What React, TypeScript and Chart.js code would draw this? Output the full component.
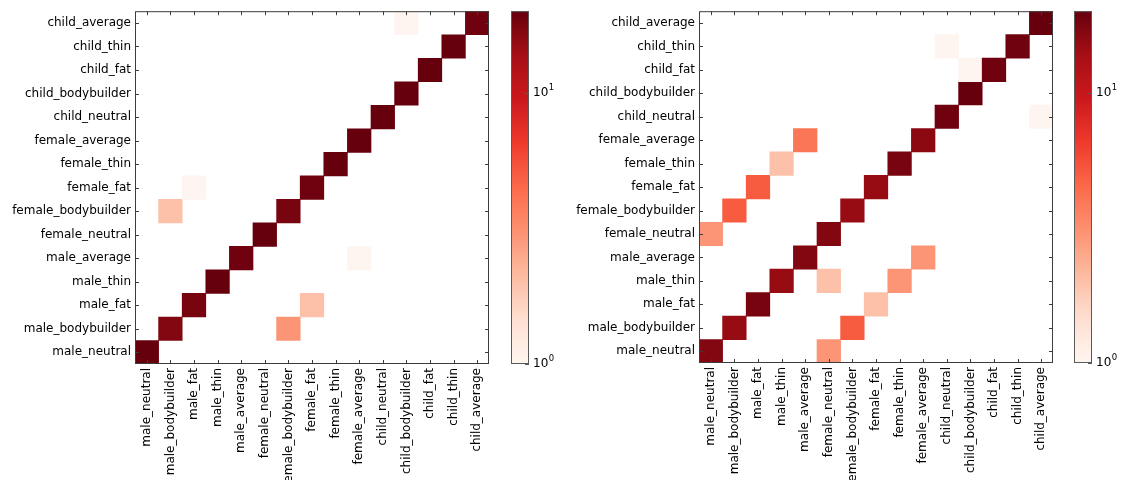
import React, { useEffect, useRef } from 'react';
import { Chart, registerables } from 'chart.js';

Chart.register(...registerables);

// Class names, bottom row / left column first.
const classNames = [
  'male_neutral',
  'male_bodybuilder',
  'male_fat',
  'male_thin',
  'male_average',
  'female_neutral',
  'female_bodybuilder',
  'female_fat',
  'female_thin',
  'female_average',
  'child_neutral',
  'child_bodybuilder',
  'child_fat',
  'child_thin',
  'child_average',
];

// Confusion counts: countsX[row][col], row = true class, col = predicted class.
const countsLeft: number[][] = [
  [20, 0, 0, 0, 0, 0, 0, 0, 0, 0, 0, 0, 0, 0, 0],
  [0, 17, 0, 0, 0, 0, 3, 0, 0, 0, 0, 0, 0, 0, 0],
  [0, 0, 18, 0, 0, 0, 0, 2, 0, 0, 0, 0, 0, 0, 0],
  [0, 0, 0, 20, 0, 0, 0, 0, 0, 0, 0, 0, 0, 0, 0],
  [0, 0, 0, 0, 19, 0, 0, 0, 0, 1, 0, 0, 0, 0, 0],
  [0, 0, 0, 0, 0, 20, 0, 0, 0, 0, 0, 0, 0, 0, 0],
  [0, 2, 0, 0, 0, 0, 18, 0, 0, 0, 0, 0, 0, 0, 0],
  [0, 0, 1, 0, 0, 0, 0, 19, 0, 0, 0, 0, 0, 0, 0],
  [0, 0, 0, 0, 0, 0, 0, 0, 20, 0, 0, 0, 0, 0, 0],
  [0, 0, 0, 0, 0, 0, 0, 0, 0, 20, 0, 0, 0, 0, 0],
  [0, 0, 0, 0, 0, 0, 0, 0, 0, 0, 20, 0, 0, 0, 0],
  [0, 0, 0, 0, 0, 0, 0, 0, 0, 0, 0, 20, 0, 0, 0],
  [0, 0, 0, 0, 0, 0, 0, 0, 0, 0, 0, 0, 20, 0, 0],
  [0, 0, 0, 0, 0, 0, 0, 0, 0, 0, 0, 0, 0, 20, 0],
  [0, 0, 0, 0, 0, 0, 0, 0, 0, 0, 0, 1, 0, 0, 19],
];

const countsRight: number[][] = [
  [17, 0, 0, 0, 0, 3, 0, 0, 0, 0, 0, 0, 0, 0, 0],
  [0, 15, 0, 0, 0, 0, 5, 0, 0, 0, 0, 0, 0, 0, 0],
  [0, 0, 18, 0, 0, 0, 0, 2, 0, 0, 0, 0, 0, 0, 0],
  [0, 0, 0, 15, 0, 2, 0, 0, 3, 0, 0, 0, 0, 0, 0],
  [0, 0, 0, 0, 17, 0, 0, 0, 0, 3, 0, 0, 0, 0, 0],
  [3, 0, 0, 0, 0, 17, 0, 0, 0, 0, 0, 0, 0, 0, 0],
  [0, 5, 0, 0, 0, 0, 15, 0, 0, 0, 0, 0, 0, 0, 0],
  [0, 0, 5, 0, 0, 0, 0, 15, 0, 0, 0, 0, 0, 0, 0],
  [0, 0, 0, 2, 0, 0, 0, 0, 18, 0, 0, 0, 0, 0, 0],
  [0, 0, 0, 0, 4, 0, 0, 0, 0, 16, 0, 0, 0, 0, 0],
  [0, 0, 0, 0, 0, 0, 0, 0, 0, 0, 19, 0, 0, 0, 1],
  [0, 0, 0, 0, 0, 0, 0, 0, 0, 0, 0, 20, 0, 0, 0],
  [0, 0, 0, 0, 0, 0, 0, 0, 0, 0, 0, 1, 19, 0, 0],
  [0, 0, 0, 0, 0, 0, 0, 0, 0, 0, 1, 0, 0, 19, 0],
  [0, 0, 0, 0, 0, 0, 0, 0, 0, 0, 0, 0, 0, 0, 20],
];

// Log colour scale limits and colorbar ticks (10^exponent).
const colorMin = 1;
const colorMax = 20;
const colorbarTicks = [1, 10];
const colorbarExponents = ['0', '1'];

// "Reds" sequential palette.
const redsStops = [
  '#fff5f0', '#fee0d2', '#fcbba1', '#fc9272', '#fb6a4a',
  '#ef3b2c', '#cb181d', '#a50f15', '#67000d',
];

const FAMILY = "'DejaVu Sans', sans-serif";
const FONT = { family: FAMILY, size: 12 };
const AXIS_COLOR = '#3c3c3c';

function hexToRgb(h: string): number[] {
  return [1, 3, 5].map((i) => parseInt(h.slice(i, i + 2), 16));
}

function reds(t: number): string {
  const tt = Math.min(1, Math.max(0, t)) * (redsStops.length - 1);
  const i = Math.min(redsStops.length - 2, Math.floor(tt));
  const f = tt - i;
  const a = hexToRgb(redsStops[i]);
  const b = hexToRgb(redsStops[i + 1]);
  const c = a.map((v, k) => Math.round(v + (b[k] - v) * f));
  return `rgb(${c[0]},${c[1]},${c[2]})`;
}

function colorFor(v: number): string {
  return reds(Math.log(v / colorMin) / Math.log(colorMax / colorMin));
}

function cellsOf(counts: number[][]) {
  const cells: { x: string; y: number[]; v: number }[] = [];
  counts.forEach((row, r) => {
    row.forEach((v, c) => {
      if (v > 0) cells.push({ x: classNames[c], y: [r - 0.5, r + 0.5], v });
    });
  });
  return cells;
}

// Frame with inward tick marks on all four sides.
const heatFrame = {
  id: 'heatFrame',
  afterDatasetsDraw(chart: any) {
    const { ctx, chartArea, scales } = chart;
    const { left, right, top, bottom } = chartArea;
    const len = 4;
    ctx.save();
    ctx.strokeStyle = AXIS_COLOR;
    ctx.lineWidth = 1;
    ctx.beginPath();
    classNames.forEach((_, i) => {
      const px = Math.round(scales.x.getPixelForTick(i)) + 0.5;
      ctx.moveTo(px, bottom);
      ctx.lineTo(px, bottom - len);
      ctx.moveTo(px, top);
      ctx.lineTo(px, top + len);
      const py = Math.round(scales.y.getPixelForValue(i)) + 0.5;
      ctx.moveTo(left, py);
      ctx.lineTo(left + len, py);
      ctx.moveTo(right, py);
      ctx.lineTo(right - len, py);
    });
    ctx.stroke();
    ctx.strokeRect(left + 0.5, top + 0.5, right - left - 1, bottom - top - 1);
    ctx.restore();
  },
};

// Colorbar outline, inward ticks and power-of-ten labels with superscripts.
const barFrame = {
  id: 'barFrame',
  afterDatasetsDraw(chart: any) {
    const { ctx, chartArea, scales } = chart;
    const { left, right, top, bottom } = chartArea;
    ctx.save();
    ctx.strokeStyle = '#5a5a5a';
    ctx.lineWidth = 1;
    ctx.beginPath();
    colorbarTicks.forEach((v) => {
      const py = Math.round(scales.y.getPixelForValue(v)) + 0.5;
      ctx.moveTo(right, py);
      ctx.lineTo(right - 4, py);
    });
    ctx.stroke();
    ctx.strokeRect(left + 0.5, top + 0.5, right - left - 1, bottom - top - 1);

    ctx.fillStyle = '#000';
    ctx.textAlign = 'left';
    ctx.textBaseline = 'middle';
    colorbarTicks.forEach((v, i) => {
      const py = scales.y.getPixelForValue(v);
      const x = right + 4;
      ctx.font = `12px ${FAMILY}`;
      ctx.fillText('10', x, py);
      const w = ctx.measureText('10').width;
      ctx.font = `8.5px ${FAMILY}`;
      ctx.fillText(colorbarExponents[i], x + w + 0.5, py - 5);
    });
    ctx.restore();
  },
};

type Box = { yWidth: number; xHeight: number; top: number; right: number; left: number };

function Heatmap({ counts, box, x, w }: { counts: number[][]; box: Box; x: number; w: number }) {
  const ref = useRef<HTMLCanvasElement>(null);
  useEffect(() => {
    const chart = new Chart(ref.current!, {
      type: 'bar',
      data: {
        labels: classNames,
        datasets: [
          {
            data: cellsOf(counts) as any,
            backgroundColor: (c: any) => (c.raw ? colorFor(c.raw.v) : 'transparent'),
            borderWidth: 0,
            barPercentage: 1,
            categoryPercentage: 1,
          },
        ],
      },
      options: {
        animation: false,
        responsive: false,
        events: [],
        layout: { padding: { left: box.left, top: box.top, right: box.right, bottom: 0 } },
        plugins: { legend: { display: false }, tooltip: { enabled: false } },
        scales: {
          x: {
            type: 'category',
            offset: true,
            grid: { display: false, drawTicks: false },
            border: { display: false },
            ticks: {
              autoSkip: false,
              minRotation: 90,
              maxRotation: 90,
              padding: 4,
              font: FONT,
              color: '#000',
            },
            afterFit: (s: any) => {
              s.height = box.xHeight;
            },
          },
          y: {
            type: 'linear',
            min: -0.5,
            max: 14.5,
            grid: { display: false, drawTicks: false },
            border: { display: false },
            ticks: {
              padding: 4,
              font: FONT,
              color: '#000',
              callback: (v: any) => classNames[v] ?? '',
            },
            afterBuildTicks: (s: any) => {
              s.ticks = classNames.map((_, i) => ({ value: i }));
            },
            afterFit: (s: any) => {
              s.width = box.yWidth;
            },
          },
        },
      },
      plugins: [heatFrame],
    });
    return () => chart.destroy();
  }, []);
  return (
    <canvas
      ref={ref}
      width={w}
      height={480}
      style={{ position: 'absolute', left: x, top: 0, width: w, height: 480 }}
    />
  );
}

function ColorBar({ box, x, w }: { box: Box; x: number; w: number }) {
  const ref = useRef<HTMLCanvasElement>(null);
  useEffect(() => {
    const chart = new Chart(ref.current!, {
      type: 'bar',
      data: {
        labels: [''],
        datasets: [
          {
            data: [[colorMin, colorMax]] as any,
            backgroundColor: (c: any) => {
              const area = c.chart.chartArea;
              if (!area) return redsStops[4];
              const g = c.chart.ctx.createLinearGradient(0, area.bottom, 0, area.top);
              const n = 32;
              for (let i = 0; i <= n; i++) g.addColorStop(i / n, reds(i / n));
              return g;
            },
            borderWidth: 0,
            barPercentage: 1,
            categoryPercentage: 1,
          },
        ],
      },
      options: {
        animation: false,
        responsive: false,
        events: [],
        layout: { padding: { left: box.left, top: box.top, right: 0, bottom: box.xHeight } },
        plugins: { legend: { display: false }, tooltip: { enabled: false } },
        scales: {
          x: { display: false, offset: true },
          y: {
            type: 'logarithmic',
            position: 'right',
            min: colorMin,
            max: colorMax,
            grid: { display: false, drawTicks: false },
            border: { display: false },
            ticks: {
              padding: 4,
              font: FONT,
              color: '#000',
              callback: () => '',
            },
            afterBuildTicks: (s: any) => {
              s.ticks = colorbarTicks.map((v) => ({ value: v }));
            },
            afterFit: (s: any) => {
              s.width = box.yWidth;
            },
          },
        },
      },
      plugins: [barFrame],
    });
    return () => chart.destroy();
  }, []);
  return (
    <canvas
      ref={ref}
      width={w}
      height={480}
      style={{ position: 'absolute', left: x, top: 0, width: w, height: 480 }}
    />
  );
}

export default function App() {
  return (
    <div
      style={{
        position: 'fixed',
        left: 0,
        top: 0,
        width: 1121,
        height: 480,
        background: '#fff',
        overflow: 'hidden',
      }}
    >
      <Heatmap counts={countsLeft} x={0} w={500} box={{ left: 0, top: 11, right: 11, yWidth: 135, xHeight: 116 }} />
      <ColorBar x={500} w={60} box={{ left: 11, top: 11, right: 0, yWidth: 31, xHeight: 116 }} />
      <Heatmap counts={countsRight} x={560} w={504} box={{ left: 0, top: 7, right: 11, yWidth: 139, xHeight: 117 }} />
      <ColorBar x={1064} w={57} box={{ left: 10, top: 7, right: 0, yWidth: 29, xHeight: 117 }} />
    </div>
  );
}
